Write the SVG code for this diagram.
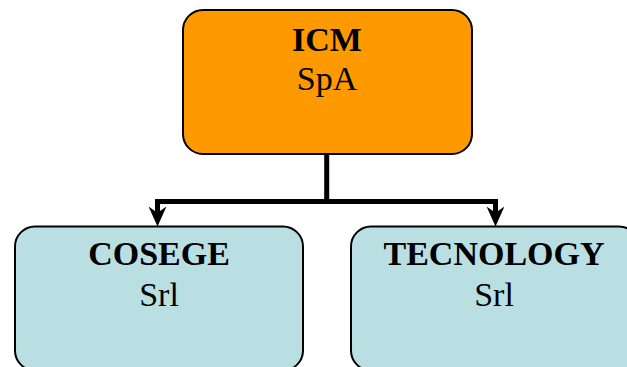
<svg xmlns="http://www.w3.org/2000/svg" width="627" height="367" viewBox="0 0 627 367">
<style>
.box{stroke:#000;stroke-width:2}
.top{fill:#FF9900}
.sub{fill:#B9DFE3}
.t{font-family:"Liberation Serif","Times New Roman",serif;font-size:34px;fill:#000;text-anchor:middle}
.b{font-weight:bold}
.conn{fill:none;stroke:#000;stroke-width:5;stroke-linejoin:miter}
</style>
<defs>
<marker id="arr" markerUnits="userSpaceOnUse" markerWidth="20" markerHeight="20" viewBox="0 0 19 17" refX="9" refY="8.5" orient="auto">
<polygon points="0,0 19,8.5 0,17 6,8.5" fill="#000"/>
</marker>
</defs>
<rect width="627" height="367" fill="#fff"/>
<g id="connectors">
<path class="conn" d="M326.7,154 V201.5 H157.5 V216" marker-end="url(#arr)"/>
<path class="conn" d="M326.7,201.5 H495.5 V216" marker-end="url(#arr)"/>
</g>
<g id="icm">
<rect class="box top" x="183" y="10" width="289" height="144" rx="20"/>
<text class="t b" x="327" y="51">ICM</text>
<text class="t" x="327" y="90">SpA</text>
</g>
<g id="cosege">
<rect class="box sub" x="15" y="226.5" width="288" height="144" rx="20"/>
<text class="t b" x="159" y="265">COSEGE</text>
<text class="t" x="159" y="306">Srl</text>
</g>
<g id="tecnology">
<rect class="box sub" x="351" y="226.5" width="288" height="144" rx="20"/>
<text class="t b" x="494" y="265">TECNOLOGY</text>
<text class="t" x="494" y="306">Srl</text>
</g>
</svg>
